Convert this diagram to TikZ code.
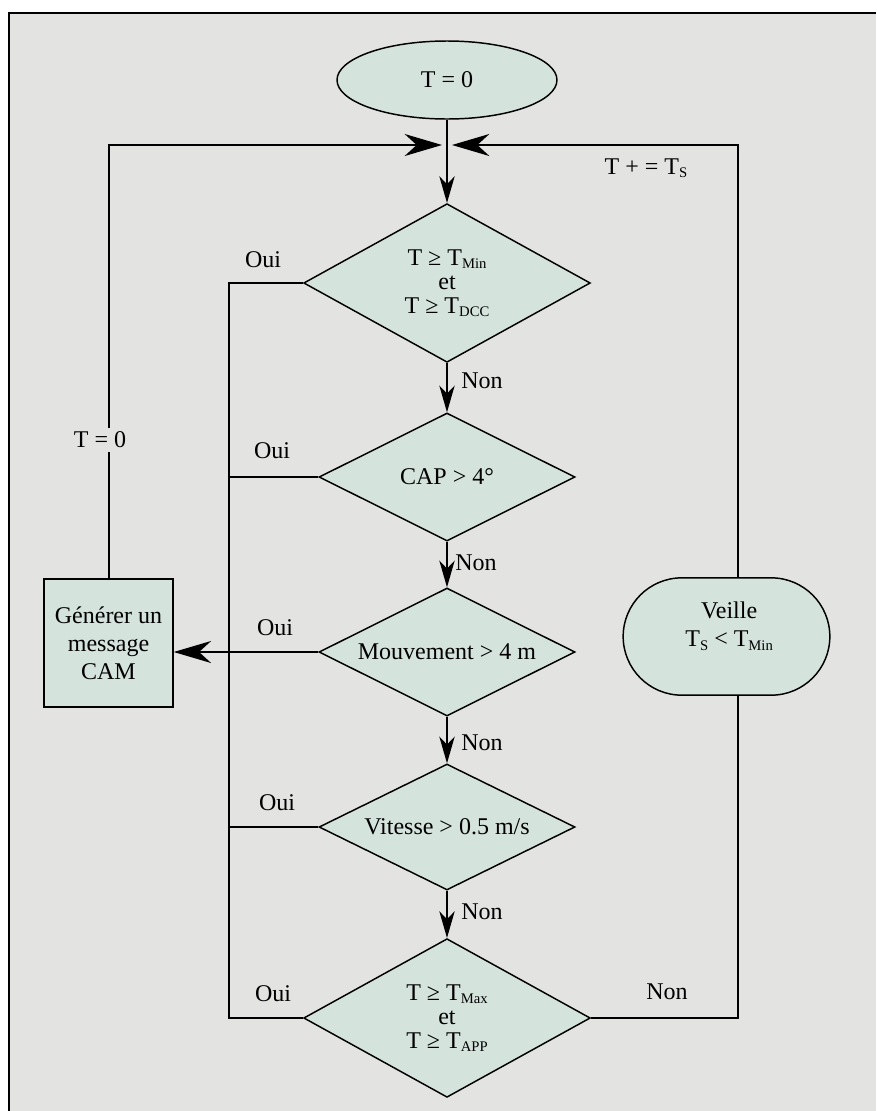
\documentclass[tikz,border=0pt]{standalone}
\usepackage{fontspec}
\setmainfont{Liberation Serif}
\usetikzlibrary{shapes.geometric,shapes.misc,arrows.meta}
\definecolor{panel}{RGB}{227,227,226}
\definecolor{boxfill}{RGB}{213,227,221}
% lowered, smaller index text
\newcommand\subx[1]{\raisebox{-2.5pt}{\fontsize{11}{11}\selectfont #1}}

\begin{document}
\begin{tikzpicture}[x=0.75pt,y=-0.75pt,
  every node/.style={font=\fontsize{18}{18}\selectfont},
  shapebox/.style={draw=black, line width=1.1pt, fill=boxfill, inner sep=0pt, align=center},
  test/.style={shapebox, diamond, shape aspect=2, minimum width=192pt, minimum height=96pt},
  bigtest/.style={shapebox, diamond, shape aspect=1.8, minimum width=215pt, minimum height=119pt},
  link/.style={line width=1.5pt},
  down/.style={link, -{Stealth[length=20pt,width=11.5pt,inset=6pt]}},
  side/.style={link, -{Stealth[length=28pt,width=16.5pt,inset=9pt]}},
  lbl/.style={inner sep=0pt}]

% panel
\useasboundingbox (0,0) rectangle (876,1111);
\fill[panel] (9,13) rectangle (876,1111);
\draw[line width=1.5pt] (9,1111) -- (9,13) -- (876,13);

% shapes
\node[shapebox, ellipse, minimum width=165pt, minimum height=58.5pt] (start) at (447,80) {T = 0};
\node[bigtest] (d1) at (447,283) {T ≥ T\subx{Min}\\et\\T ≥ T\subx{DCC}};
\node[test] (d2) at (447,477) {CAP > 4°};
\node[test] (d3) at (447,652) {Mouvement > 4 m};
\node[test, minimum height=94.5pt] (d4) at (447,827) {Vitesse > 0.5 m/s};
\node[bigtest] (d5) at (447,1018) {T ≥ T\subx{Max}\\et\\T ≥ T\subx{APP}};
\node[shapebox, rectangle, minimum width=96.75pt, minimum height=96pt,
      font=\fontsize{18}{21}\selectfont] (cam) at (108.5,643) {Générer un\\message\\CAM};
\node[shapebox, rounded rectangle, minimum width=155pt, minimum height=88pt,
      label={[align=center, font=\fontsize{18}{21.5}\selectfont, yshift=8pt, xshift=2pt]center:Veille\\T\subx{S} < T\subx{Min}}]
      (veille) at (726.5,636.5) {};

% junction points
\coordinate (jl) at (442,145);
\coordinate (jr) at (452,145);
\coordinate (rx) at (738,145);
\coordinate (bus) at (229,283);

% main flow
\draw[link] (start.south) -- (447,145);
\draw[down] (447,145) -- (d1.north);
\draw[down] (d1.south) -- (d2.north);
\draw[down] (d2.south) -- (d3.north);
\draw[down] (d3.south) -- (d4.north);
\draw[down] (d4.south) -- (d5.north);

% yes branches
\draw[link] (d1.west) -- (d1.west -| bus) -- (d5.west -| bus) -- (d5.west);
\draw[link] (d2.west) -- (d2.west -| bus);
\draw[link] (d4.west) -- (d4.west -| bus);
\draw[side] (d3.west) -- (d3.west -| cam.east);
\draw[side] (cam.north) |- (jl);

% no branch through standby
\draw[link] (d5.east) -| (veille.south -| rx);
\draw[side] (veille.north -| rx) -- (rx) -- (jr);

% labels
\node[lbl] at (646,168) {T + = T\subx{S}};
\node[lbl, fill=panel, inner sep=3pt] at (100,440) {T = 0};
\node[lbl] at (263,260) {Oui};
\node[lbl] at (272,451) {Oui};
\node[lbl] at (275,628) {Oui};
\node[lbl] at (277,803) {Oui};
\node[lbl] at (273,994) {Oui};
\node[lbl] at (482,381) {Non};
\node[lbl] at (476,563) {Non};
\node[lbl] at (482,743) {Non};
\node[lbl] at (482,912) {Non};
\node[lbl] at (667,992) {Non};
\end{tikzpicture}
\end{document}
